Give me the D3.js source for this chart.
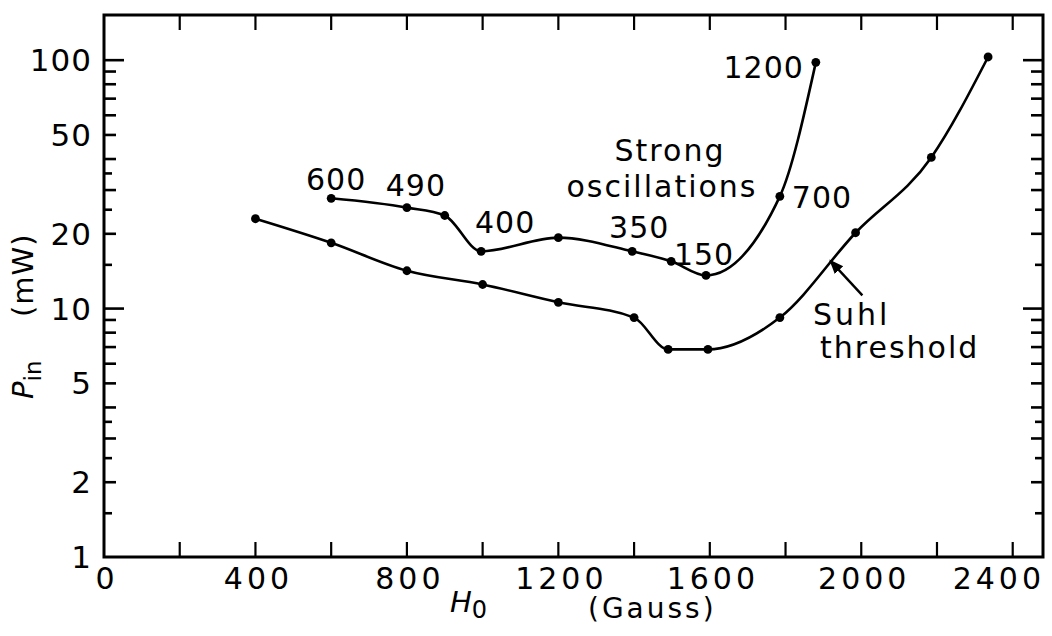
<!DOCTYPE html>
<html>
<head>
<meta charset="utf-8">
<script src="https://cdn.jsdelivr.net/npm/d3@7"></script>
<style>
body { margin: 0; background: #fff; }
text { font-family: "DejaVu Sans", sans-serif; fill: #000; }
</style>
</head>
<body>
<script>

// Suhl threshold curve (lower)
const suhlH = [400, 600, 800, 1000, 1200, 1400, 1490, 1595, 1785, 1985, 2185, 2335];
const suhlP = [23, 18.4, 14.2, 12.5, 10.6, 9.2, 6.85, 6.85, 9.2, 20.2, 40.6, 103];

// Strong oscillations curve (upper)
const strongH = [600, 800, 900, 996, 1200, 1395, 1498, 1590, 1785, 1880];
const strongP = [27.8, 25.5, 23.7, 17, 19.3, 17, 15.5, 13.6, 28.3, 98];

// numbers written next to some of the upper points, and which point they belong to
const strongLabels = ["600", "490", "400", "350", "150", "700", "1200"];
const strongLabelPoint = [0, 1, 3, 5, 7, 8, 9];

// axis ticks
const xTickLabels = [0, 400, 800, 1200, 1600, 2000, 2400];
const xMinorTicks = [200, 400, 600, 800, 1000, 1200, 1400, 1600, 1800, 2000, 2200, 2400];
const yTickLabels = [1, 2, 5, 10, 20, 50, 100];
const yMinorSteps = [1.5, 2, 2.5, 3, 3.5, 4, 5, 6, 7, 8, 9, 10];

const width = 1052;
const height = 636;
const marginTop = 15;
const marginRight = 9;
const marginBottom = 79;
const marginLeft = 104;

const svg = d3.create("svg")
    .attr("width", width)
    .attr("height", height)
    .attr("viewBox", [0, 0, width, height]);

const x = d3.scaleLinear([0, 2480], [marginLeft, width - marginRight]);
const y = d3.scaleLog([1, 152], [height - marginBottom, marginTop]);

const x0 = marginLeft, x1 = width - marginRight;
const y0 = height - marginBottom, y1 = marginTop;

// frame
svg.append("rect")
    .attr("x", x0).attr("y", y1)
    .attr("width", x1 - x0).attr("height", y0 - y1)
    .attr("fill", "none")
    .attr("stroke", "#000")
    .attr("stroke-width", 3);

// x ticks, bottom and top, pointing inward
svg.append("g")
    .attr("stroke", "#000")
    .attr("stroke-width", 2.2)
  .selectAll("line")
  .data(xMinorTicks)
  .join("line")
    .attr("x1", d => x(d)).attr("x2", d => x(d))
    .attr("y1", y0).attr("y2", y0 - 15);

svg.append("g")
    .attr("stroke", "#000")
    .attr("stroke-width", 2.2)
  .selectAll("line")
  .data(xMinorTicks)
  .join("line")
    .attr("x1", d => x(d)).attr("x2", d => x(d))
    .attr("y1", y1).attr("y2", y1 + 15);

// y ticks on both sides
const yTicks = [];
[1, 10].forEach(dec => yMinorSteps.forEach(s => yTicks.push(+(s * dec).toFixed(2))));

function tickLen(v) {
    if (v === 10 || v === 100) return 20;
    if ([1.5, 2.5, 3.5, 15, 25, 35].includes(v)) return 8;
    return 12;
}

svg.append("g")
    .attr("stroke", "#000")
    .attr("stroke-width", 2.6)
  .selectAll("line")
  .data(yTicks)
  .join("line")
    .attr("x1", x0).attr("x2", d => x0 + tickLen(d))
    .attr("y1", d => y(d)).attr("y2", d => y(d));

svg.append("g")
    .attr("stroke", "#000")
    .attr("stroke-width", 2.6)
  .selectAll("line")
  .data(yTicks)
  .join("line")
    .attr("x1", x1).attr("x2", d => x1 - tickLen(d))
    .attr("y1", d => y(d)).attr("y2", d => y(d));

// tick labels (the last one sits inside the frame edge, as in the original)
const last = xTickLabels[xTickLabels.length - 1];
svg.append("g")
  .selectAll("text")
  .data(xTickLabels)
  .join("text")
    .attr("x", d => d === last ? x1 + 2 : x(d) + 3)
    .attr("y", y0 + 32)
    .attr("text-anchor", d => d === last ? "end" : "middle")
    .attr("font-size", 30)
    .attr("letter-spacing", 4)
    .text(d => d);

svg.append("g")
  .selectAll("text")
  .data(yTickLabels)
  .join("text")
    .attr("x", x0 - 12)
    .attr("y", d => y(d) + 11)
    .attr("text-anchor", "end")
    .attr("font-size", 31)
    .attr("letter-spacing", 1)
    .text(d => d);

// axis titles
const xt = svg.append("text")
    .attr("x", 450)
    .attr("y", 612)
    .attr("font-size", 29);
xt.append("tspan").attr("font-style", "italic").text("H");
xt.append("tspan").attr("dy", 6).attr("font-size", 24).text("0");

svg.append("text")
    .attr("x", 588)
    .attr("y", 618)
    .attr("font-size", 28)
    .attr("letter-spacing", 3)
    .text("(Gauss)");

const yt = svg.append("text")
    .attr("transform", "translate(33,399) rotate(-90)")
    .attr("font-size", 29);
yt.append("tspan").attr("font-style", "italic").text("P");
yt.append("tspan").attr("dy", 8).attr("font-size", 23).text("in");
yt.append("tspan").attr("x", 82).attr("dy", -8).attr("letter-spacing", 1).text("(mW)");

// curves
const line = d3.line()
    .x(d => x(d[0]))
    .y(d => y(d[1]))
    .curve(d3.curveMonotoneX);

const suhl = suhlH.map((h, i) => [h, suhlP[i]]);
const strong = strongH.map((h, i) => [h, strongP[i]]);

[suhl, strong].forEach(series => {
    svg.append("path")
        .attr("fill", "none")
        .attr("stroke", "#000")
        .attr("stroke-width", 2.6)
        .attr("d", line(series));

    svg.append("g")
      .selectAll("circle")
      .data(series)
      .join("circle")
        .attr("cx", d => x(d[0]))
        .attr("cy", d => y(d[1]))
        .attr("r", 4.4)
        .attr("fill", "#000");
});

// point labels on the upper curve
const labelOffsets = [
    { dx: 5, dy: -8, anchor: "middle" },
    { dx: 9, dy: -12, anchor: "middle" },
    { dx: 24, dy: -18, anchor: "middle" },
    { dx: 7, dy: -13, anchor: "middle" },
    { dx: -2, dy: -10, anchor: "middle" },
    { dx: 12, dy: 12, anchor: "start" },
    { dx: -12, dy: 16, anchor: "end" }
];

svg.append("g")
  .selectAll("text")
  .data(strongLabels)
  .join("text")
    .attr("x", (d, i) => x(strong[strongLabelPoint[i]][0]) + labelOffsets[i].dx)
    .attr("y", (d, i) => y(strong[strongLabelPoint[i]][1]) + labelOffsets[i].dy)
    .attr("text-anchor", (d, i) => labelOffsets[i].anchor)
    .attr("font-size", 30)
    .attr("letter-spacing", 1)
    .text(d => d);

// curve names
svg.append("text")
    .attr("x", 670).attr("y", 161)
    .attr("text-anchor", "middle")
    .attr("font-size", 30)
    .attr("letter-spacing", 2)
    .text("Strong");
svg.append("text")
    .attr("x", 662).attr("y", 197)
    .attr("text-anchor", "middle")
    .attr("font-size", 30)
    .attr("letter-spacing", 2)
    .text("oscillations");

svg.append("text")
    .attr("x", 813).attr("y", 325)
    .attr("font-size", 30)
    .attr("letter-spacing", 3)
    .text("Suhl");
svg.append("text")
    .attr("x", 820).attr("y", 358)
    .attr("font-size", 30)
    .attr("letter-spacing", 2)
    .text("threshold");

// arrow pointing at the Suhl curve
const arrowTail = [2003, 11.3];
const arrowTip = [1918, 15.6];

svg.append("defs").append("marker")
    .attr("id", "head")
    .attr("viewBox", "0 0 10 10")
    .attr("refX", 9).attr("refY", 5)
    .attr("markerWidth", 6).attr("markerHeight", 6)
    .attr("markerUnits", "strokeWidth")
    .attr("orient", "auto")
  .append("path")
    .attr("d", "M0,1L10,5L0,9z")
    .attr("fill", "#000");

svg.append("line")
    .attr("x1", x(arrowTail[0])).attr("y1", y(arrowTail[1]))
    .attr("x2", x(arrowTip[0])).attr("y2", y(arrowTip[1]))
    .attr("stroke", "#000")
    .attr("stroke-width", 2.4)
    .attr("marker-end", "url(#head)");

document.body.appendChild(svg.node());
</script>
</body>
</html>
